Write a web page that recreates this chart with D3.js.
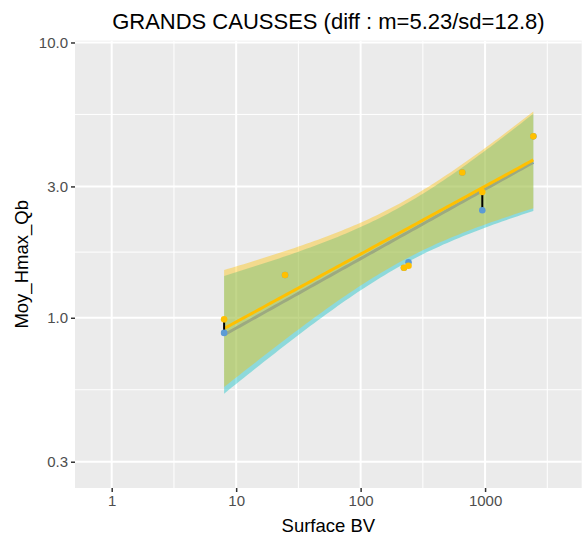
<!DOCTYPE html>
<html><head><meta charset="utf-8">
<script src="https://cdn.jsdelivr.net/npm/d3@7"></script>
<style>
body{margin:0;background:#fff;}
svg{display:block;font-family:"Liberation Sans",Arial,sans-serif;}
</style>
</head><body>
<script>
// ---- data ----
const surfaceBV    = [8, 24.7, 223, 242.5, 656, 950, 2442];
const seriesYellow = [0.987, 1.43, 1.52, 1.546, 3.37, 2.864, 4.56];
const seriesBlue   = [0.881, 1.43, 1.52, 1.59, 3.37, 2.458, 4.56];
const xTicks = [1, 10, 100, 1000];
const xTickLabels = ["1", "10", "100", "1000"];
const yTicks = [0.3, 1, 3, 10];
const yTickLabels = ["0.3", "1.0", "3.0", "10.0"];
const xMinor = [Math.pow(10,0.5), Math.pow(10,1.5), Math.pow(10,2.5), Math.pow(10,3.5)];
const yMinor = [Math.sqrt(0.3), Math.sqrt(3), Math.sqrt(30)];
const titleText = "GRANDS CAUSSES (diff : m=5.23/sd=12.8)";
const xTitle = "Surface BV";
const yTitle = "Moy_Hmax_Qb";
const tCrit = 2.5706; // t quantile 0.975, df = n-2 = 5

const W = 587, H = 540;
const panel = {left: 75, right: 581.7, top: 40.7, bottom: 488};

const svg = d3.select("body").append("svg").attr("width", W).attr("height", H);

const x = d3.scaleLog().domain([0.507, 5975]).range([panel.left, panel.right]);
const y = d3.scaleLog().domain([0.2408, 10.15]).range([panel.bottom, panel.top]);

// panel background
svg.append("rect").attr("x", panel.left).attr("y", panel.top)
  .attr("width", panel.right - panel.left).attr("height", panel.bottom - panel.top)
  .attr("fill", "#EBEBEB");

const grid = svg.append("g");
grid.selectAll(".xmin").data(xMinor).join("line")
  .attr("x1", d => x(d)).attr("x2", d => x(d)).attr("y1", panel.top).attr("y2", panel.bottom)
  .attr("stroke", "#fff").attr("stroke-width", 1);
grid.selectAll(".ymin").data(yMinor).join("line").attr("class","ymin")
  .attr("y1", d => y(d)).attr("y2", d => y(d)).attr("x1", panel.left).attr("x2", panel.right)
  .attr("stroke", "#fff").attr("stroke-width", 1);
grid.selectAll(".xmaj").data(xTicks).join("line").attr("class","xmaj")
  .attr("x1", d => x(d)).attr("x2", d => x(d)).attr("y1", panel.top).attr("y2", panel.bottom)
  .attr("stroke", "#fff").attr("stroke-width", 2);
grid.selectAll(".ymaj").data(yTicks).join("line").attr("class","ymaj")
  .attr("y1", d => y(d)).attr("y2", d => y(d)).attr("x1", panel.left).attr("x2", panel.right)
  .attr("stroke", "#fff").attr("stroke-width", 2);

// linear model in log-log space with 95% confidence band
function lmBand(xs, ys) {
  const lx = xs.map(Math.log10), ly = ys.map(Math.log10);
  const n = lx.length, mx = d3.mean(lx), my = d3.mean(ly);
  let sxx = 0, sxy = 0;
  for (let i = 0; i < n; i++) { sxx += (lx[i]-mx)**2; sxy += (lx[i]-mx)*(ly[i]-my); }
  const b = sxy / sxx, a = my - b * mx;
  let sse = 0;
  for (let i = 0; i < n; i++) sse += (ly[i] - (a + b*lx[i]))**2;
  const s = Math.sqrt(sse / (n - 2));
  const lo = d3.min(lx), hi = d3.max(lx);
  const pts = d3.range(80).map(k => {
    const t = lo + (hi - lo) * k / 79;
    const fit = a + b * t;
    const se = s * Math.sqrt(1/n + (t-mx)**2 / sxx);
    return {x: Math.pow(10,t), fit: Math.pow(10,fit),
            lo: Math.pow(10, fit - tCrit*se), hi: Math.pow(10, fit + tCrit*se)};
  });
  return pts;
}

const smooths = [
  {vals: seriesBlue, fill: "#00BFC4", line: "#5B9BD5"},
  {vals: seriesYellow, fill: "#FFC000", line: "#FFC000"}
];
const area = d3.area().x(d => x(d.x)).y0(d => y(d.lo)).y1(d => y(d.hi));
const line = d3.line().x(d => x(d.x)).y(d => y(d.fit));
smooths.forEach(sm => {
  const band = lmBand(surfaceBV, sm.vals);
  svg.append("path").datum(band).attr("d", area).attr("fill", sm.fill).attr("fill-opacity", 0.4);
  svg.append("path").datum(band).attr("d", line).attr("fill", "none")
    .attr("stroke", sm.line).attr("stroke-width", 3);
});

// difference segments
svg.selectAll(".seg").data(surfaceBV).join("line").attr("class","seg")
  .attr("x1", d => x(d)).attr("x2", d => x(d))
  .attr("y1", (d,i) => y(seriesYellow[i])).attr("y2", (d,i) => y(seriesBlue[i]))
  .attr("stroke", "#000").attr("stroke-width", 2);

// points
svg.selectAll(".pb").data(surfaceBV).join("circle").attr("class","pb")
  .attr("cx", d => x(d)).attr("cy", (d,i) => y(seriesBlue[i])).attr("r", 3.3).attr("fill", "#5B9BD5");
svg.selectAll(".py").data(surfaceBV).join("circle").attr("class","py")
  .attr("cx", d => x(d)).attr("cy", (d,i) => y(seriesYellow[i])).attr("r", 3.3).attr("fill", "#FFC000");

// axes
const xAxis = d3.axisBottom(x).tickValues(xTicks).tickFormat((d,i) => xTickLabels[i]).tickSize(4).tickPadding(3);
const yAxis = d3.axisLeft(y).tickValues(yTicks).tickFormat((d,i) => yTickLabels[i]).tickSize(4).tickPadding(3);
const gx = svg.append("g").attr("transform", `translate(0,${panel.bottom})`).call(xAxis);
const gy = svg.append("g").attr("transform", `translate(${panel.left},0)`).call(yAxis);
[gx, gy].forEach(g => {
  g.select(".domain").remove();
  g.selectAll(".tick line").attr("stroke", "#333").attr("stroke-width", 1.5);
  g.selectAll(".tick text").attr("fill", "#4D4D4D").style("font-size", "15px")
    .style("font-family", '"Liberation Sans", Arial, sans-serif');
});

// titles
svg.append("text").attr("x", (panel.left + panel.right)/2).attr("y", 29)
  .attr("text-anchor", "middle").style("font-size", "22px").attr("fill", "#000").text(titleText);
svg.append("text").attr("x", (panel.left + panel.right)/2).attr("y", 532)
  .attr("text-anchor", "middle").style("font-size", "18.5px").attr("fill", "#000").text(xTitle);
svg.append("text").attr("transform", `translate(28,${(panel.top + panel.bottom)/2}) rotate(-90)`)
  .attr("text-anchor", "middle").style("font-size", "18.5px").attr("fill", "#000").text(yTitle);
</script>
</body></html>
